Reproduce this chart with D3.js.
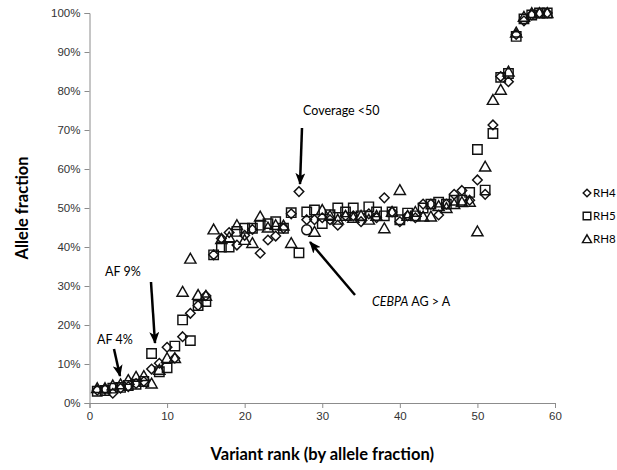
<!DOCTYPE html>
<html>
<head>
<meta charset="utf-8">
<script src="https://cdn.jsdelivr.net/npm/d3@7"></script>
<style>
  body { margin: 0; background: #fff; }
  svg { font-family: Lato, "Open Sans", sans-serif; }
  .tick text { fill: #333; font-size: 11.5px; }
  .domain, .tick line { stroke: #8c8c8c; }
  .mark { fill: none; stroke: #111; stroke-width: 1.45; }
</style>
</head>
<body>
<div id="wrapper"></div>
<script>
// allele fraction (%) per variant rank 1..59
const rh4 = [3.3, 3.5, 2.5, 3.8, 4.2, 5.0, 5.5, 8.7, 10.2, 14.3, 11.5, 17, 23, 25, 27.5,
  38, 42.2, 43.7, 40.5, 43, 44.5, 38.4, 41.8, 42.8, 44.8, 48.5, 54.2, 47, 47,
  47.5, 47, 45.6, 48, 48, 46.5, 48.5, 47.5, 52.6, 49, 46.5, 48, 47.5, 51, 51,
  48.2, 51, 53.5, 54.5, 52, 57.2, 53.5, 71.3, 83.7, 82.4, 94.5, 98, 99.5, 100, 100]
const rh5 = [3.0, 3.2, 3.8, 4.0, 4.5, 4.8, 5.5, 12.7, 8.0, 9.0, 14.6, 21.3, 16, 25, 26,
  38, 40, 40, 44, 44.8, 44.8, 45.6, 46, 46.5, 44.8, 48.8, 38.5, 49, 49.5,
  46, 48.3, 50, 49, 50, 48, 50.3, 49, 48, 49, 47, 48.7, 48, 50, 51,
  51.5, 51, 52, 52, 54, 65, 54.6, 69.1, 83.5, 84.5, 94, 98.5, 99.5, 100, 100]
const rh8 = [3.8, 3.8, 4.5, 4.8, 5.9, 6.7, 6.9, 5.0, 8.5, 11.5, 11.5, 28.5, 37, 27.7, 27.5,
  44.5, 42, 42.5, 45.6, 41.8, 41, 47.8, 45, 45.6, 45.5, 41, null, null, 43.9,
  49.5, 48, 47, 48, 47.5, 48, 47, 48, 44.8, 49, 54.6, 48, 49, 47.8, 47.8,
  50.5, 50, 51, 51.5, 51.6, 44, 60.6, 77.7, 80.3, 85, 95, 99, 100, 100, 100]
// CEBPA AG > A call drawn with its own marker
const cebpa = { rank: 28, value: 44.4 }

const xTicks = [0, 10, 20, 30, 40, 50, 60]
const yTicks = [0, 10, 20, 30, 40, 50, 60, 70, 80, 90, 100]

const seriesNames = ["RH4", "RH5", "RH8"]
const seriesValues = [rh4, rh5, rh8]

const shapes = {
  RH4: "M0,-4.8L4.8,0L0,4.8L-4.8,0Z",
  RH5: "M-4.7,-4.7H4.7V4.7H-4.7Z",
  RH8: "M0,-5.4L5.6,4.4H-5.6Z",
}
const legendShapes = {
  RH4: "M0,-3.8L3.8,0L0,3.8L-3.8,0Z",
  RH5: "M-3.8,-3.8H3.8V3.8H-3.8Z",
  RH8: "M0,-4.2L4.5,3.6H-4.5Z",
}

const width = 617
const height = 470

const svg = d3.select("#wrapper")
  .append("svg")
    .attr("width", width)
    .attr("height", height)

const xScale = d3.scaleLinear()
  .domain([0, 60])
  .range([89.5, 555])

const yScale = d3.scaleLinear()
  .domain([0, 100])
  .range([403, 13])

// axes
const xAxis = svg.append("g")
    .attr("transform", `translate(0, ${yScale(0)})`)
    .call(d3.axisBottom(xScale).tickValues(xTicks).tickSize(5).tickPadding(4))
const yAxis = svg.append("g")
    .attr("transform", `translate(${xScale(0)}, 0)`)
    .call(d3.axisLeft(yScale).tickValues(yTicks).tickSize(5).tickPadding(4)
      .tickFormat(d => d + "%"))

svg.append("text")
    .attr("x", xScale(30))
    .attr("y", 460)
    .attr("text-anchor", "middle")
    .style("font-size", "16.5px")
    .style("font-weight", "bold")
    .text("Variant rank (by allele fraction)")

svg.append("text")
    .attr("transform", `translate(28, ${yScale(50)}) rotate(-90)`)
    .attr("text-anchor", "middle")
    .style("font-size", "16.5px")
    .style("font-weight", "bold")
    .text("Allele fraction")

// points
seriesNames.forEach((name, si) => {
  const points = seriesValues[si]
    .map((v, i) => ({ rank: i + 1, value: v }))
    .filter(d => d.value != null)
  svg.append("g").selectAll("path")
    .data(points)
    .enter().append("path")
      .attr("class", "mark")
      .attr("d", shapes[name])
      .attr("transform", d => `translate(${xScale(d.rank)}, ${yScale(d.value)})`)
})

svg.append("circle")
    .attr("class", "mark")
    .attr("cx", xScale(cebpa.rank))
    .attr("cy", yScale(cebpa.value))
    .attr("r", 5)

// legend
const legend = svg.append("g").selectAll("g")
  .data(seriesNames)
  .enter().append("g")
    .attr("transform", (d, i) => `translate(587, ${193 + i * 23})`)
legend.append("path")
    .attr("class", "mark")
    .attr("d", d => legendShapes[d])
legend.append("text")
    .attr("x", 6)
    .attr("dy", "0.35em")
    .style("font-size", "11.5px")
    .text(d => d)

// annotations
svg.append("defs").append("marker")
    .attr("id", "head")
    .attr("markerUnits", "userSpaceOnUse")
    .attr("viewBox", "0 0 12 10")
    .attr("refX", 11)
    .attr("refY", 5)
    .attr("markerWidth", 12)
    .attr("markerHeight", 10)
    .attr("orient", "auto")
  .append("path")
    .attr("d", "M0,0L12,5L0,10L3,5Z")
    .attr("fill", "#000")

const arrows = [
  [302, 128, 300, 184],
  [151, 282, 155, 343],
  [114, 349, 120, 376],
  [355, 295, 310, 242],
]
svg.append("g").selectAll("line")
  .data(arrows)
  .enter().append("line")
    .attr("x1", d => d[0])
    .attr("y1", d => d[1])
    .attr("x2", d => d[2])
    .attr("y2", d => d[3])
    .attr("stroke", "#000")
    .attr("stroke-width", 2.5)
    .attr("marker-end", "url(#head)")

const note = (x, y, txt) => svg.append("text")
    .attr("x", x)
    .attr("y", y)
    .attr("dy", "0.35em")
    .style("font-size", "12.5px")
    .text(txt)

note(303, 111, "Coverage <50")
note(105, 272, "AF 9%")
note(97, 340, "AF 4%")
const ceb = note(372, 302, "")
ceb.append("tspan").style("font-style", "italic").text("CEBPA")
ceb.append("tspan").text(" AG > A")
</script>
</body>
</html>
